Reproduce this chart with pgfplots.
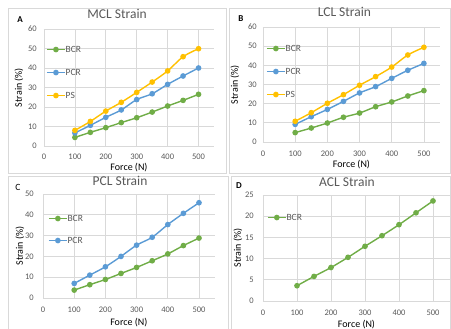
\documentclass[border=0pt]{standalone}
\usepackage{fontspec}
\setmainfont{Carlito}
\usepackage{pgfplots}
\pgfplotsset{compat=1.18}
\definecolor{cgreen}{HTML}{70AD47}
\definecolor{cblue}{HTML}{5B9BD5}
\definecolor{corange}{HTML}{FFC000}
\definecolor{ctext}{HTML}{595959}
\definecolor{cgrid}{HTML}{D9D9D9}
\pgfplotsset{
  panel/.style={
    scale only axis, anchor=south west,
    xmin=0, xmax=550, xtick={0,100,...,500},
    axis line style={draw=none}, tick style={draw=none},
    grid=major, major grid style={cgrid, line width=0.7pt},
    ticklabel style={font=\fontsize{8.5}{9}\selectfont, text=ctext},
    /pgf/number format/assume math mode=true,
    xticklabel style={anchor=center, yshift=-11pt, inner sep=0pt},
    label style={font=\fontsize{9}{10}\selectfont, text=ctext},
    title style={font=\fontsize{13.5}{14}\selectfont, text=ctext, anchor=center},
    xlabel={Force (N)}, ylabel={Strain (\%)},
    legend style={draw=none, fill=none, font=\fontsize{9.5}{10}\selectfont, text=ctext,
      inner sep=0pt, row sep=16pt, anchor=west,
      nodes={inner sep=0pt, text height=7pt, text depth=0pt},
      /tikz/every even column/.append style={column sep=1.5pt}},
    legend cell align=left,
    legend image code/.code={\draw[mark repeat=2, mark phase=2, #1] plot coordinates {(0pt,-0.5pt) (9pt,-0.5pt) (18pt,-0.5pt)};},
    every axis plot/.append style={line width=1.4pt, smooth, tension=0.5, mark=*, mark size=2.1pt},
  }
}
\begin{document}
\begin{tikzpicture}
\useasboundingbox (0pt,0pt) rectangle (451pt,329pt);
% panel frames
\draw[cgrid, line width=0.6pt] (8pt,156pt) rectangle (226pt,321pt);
\draw[cgrid, line width=0.6pt] (229pt,156pt) rectangle (450.5pt,321pt);
\draw[cgrid, line width=0.6pt] (8pt,-2pt) -- (8pt,153pt) -- (228pt,153pt) -- (228pt,-2pt);
\draw[cgrid, line width=0.6pt] (231pt,-2pt) -- (231pt,153pt) -- (450.5pt,153pt) -- (450.5pt,-2pt);
\node[font=\fontsize{9}{10}\selectfont\bfseries] at (20pt,309pt) {A};
\node[font=\fontsize{9}{10}\selectfont\bfseries] at (241pt,310pt) {B};
\node[font=\fontsize{9.5}{10}\selectfont] at (18pt,142pt) {C};
\node[font=\fontsize{9}{10}\selectfont\bfseries] at (239pt,143pt) {D};

% A
\begin{axis}[panel, at={(44pt,183pt)}, width=170pt, height=117pt,
  ymin=0, ymax=60, ytick={0,10,...,60},
  yticklabel style={anchor=east, inner sep=0pt, xshift=-7pt},
  title={MCL Strain}, title style={at={(axis description cs:0.43,1.077)}},
  every axis y label/.style={at={(axis description cs:-0.147,0.5)}, rotate=90, anchor=center},
  every axis x label/.style={at={(axis description cs:0.5,-0.18)}, anchor=center},
  legend style={at={(axis description cs:0.012,0.632)}}]
\addplot[cgreen, mark options={fill=cgreen}] coordinates {(100,4.4) (150,7.0) (200,9.4) (250,12.0) (300,14.5) (350,17.4) (400,20.5) (450,23.4) (500,26.5)};
\addplot[cblue, mark options={fill=cblue}] coordinates {(100,6.7) (150,10.6) (200,14.7) (250,18.5) (300,23.8) (350,26.8) (400,31.6) (450,35.9) (500,40.0)};
\addplot[corange, mark options={fill=corange}] coordinates {(100,8.0) (150,12.6) (200,17.9) (250,22.4) (300,27.5) (350,32.8) (400,38.5) (450,45.8) (500,49.9)};
\legend{BCR,PCR,PS}
\end{axis}

% B
\begin{axis}[panel, at={(263pt,187pt)}, width=177pt, height=115pt,
  ymin=0, ymax=60, ytick={0,10,...,60},
  yticklabel style={anchor=east, inner sep=0pt, xshift=-6pt},
  xticklabel style={yshift=-1pt},
  title={LCL Strain}, title style={at={(axis description cs:0.46,1.078)}},
  every axis y label/.style={at={(axis description cs:-0.158,0.5)}, rotate=90, anchor=center},
  every axis x label/.style={at={(axis description cs:0.5,-0.2)}, anchor=center},
  legend style={at={(axis description cs:0.017,0.617)}}]
\addplot[cgreen, mark options={fill=cgreen}] coordinates {(100,4.9) (150,7.3) (200,9.9) (250,12.9) (300,15.1) (350,18.4) (400,20.9) (450,24.0) (500,26.8)};
\addplot[cblue, mark options={fill=cblue}] coordinates {(100,9.2) (150,13.2) (200,17.0) (250,21.2) (300,25.6) (350,28.9) (400,33.2) (450,37.4) (500,41.0)};
\addplot[corange, mark options={fill=corange}] coordinates {(100,10.8) (150,15.3) (200,20.2) (250,24.7) (300,29.6) (350,34.1) (400,39.1) (450,45.4) (500,49.4)};
\legend{BCR,PCR,PS}
\end{axis}

% C
\begin{axis}[panel, at={(43pt,31pt)}, width=171.6pt, height=104pt,
  ymin=0, ymax=50, ytick={0,10,...,50},
  yticklabel style={anchor=east, inner sep=0pt, xshift=-9pt},
  xticklabel style={yshift=-1pt},
  title={PCL Strain}, title style={at={(axis description cs:0.449,1.067)}},
  every axis y label/.style={at={(axis description cs:-0.134,0.5)}, rotate=90, anchor=center},
  every axis x label/.style={at={(axis description cs:0.5,-0.24)}, anchor=center},
  legend style={row sep=15pt, at={(axis description cs:0.029,0.663)}}]
\addplot[cgreen, mark options={fill=cgreen}] coordinates {(100,3.8) (150,6.4) (200,8.9) (250,11.8) (300,14.7) (350,17.9) (400,21.2) (450,25.2) (500,28.8)};
\addplot[cblue, mark options={fill=cblue}] coordinates {(100,7.0) (150,11.0) (200,15.0) (250,20.0) (300,25.4) (350,29.2) (400,35.3) (450,40.7) (500,45.8)};
\legend{BCR,PCR}
\end{axis}

% D
\begin{axis}[panel, at={(263pt,28pt)}, width=187pt, height=106pt,
  ymin=0, ymax=25, ytick={0,5,...,25},
  yticklabel style={anchor=east, inner sep=0pt, xshift=-9pt},
  xticklabel style={yshift=-1pt},
  title={ACL Strain}, title style={at={(axis description cs:0.449,1.066)}},
  every axis y label/.style={at={(axis description cs:-0.134,0.5)}, rotate=90, anchor=center},
  every axis x label/.style={at={(axis description cs:0.5,-0.225)}, anchor=center},
  legend style={at={(axis description cs:0.021,0.792)}}]
\addplot[cgreen, mark options={fill=cgreen}] coordinates {(100,3.6) (150,5.8) (200,7.9) (250,10.3) (300,12.9) (350,15.4) (400,18.0) (450,20.8) (500,23.6)};
\legend{BCR}
\end{axis}
\end{tikzpicture}
\end{document}
